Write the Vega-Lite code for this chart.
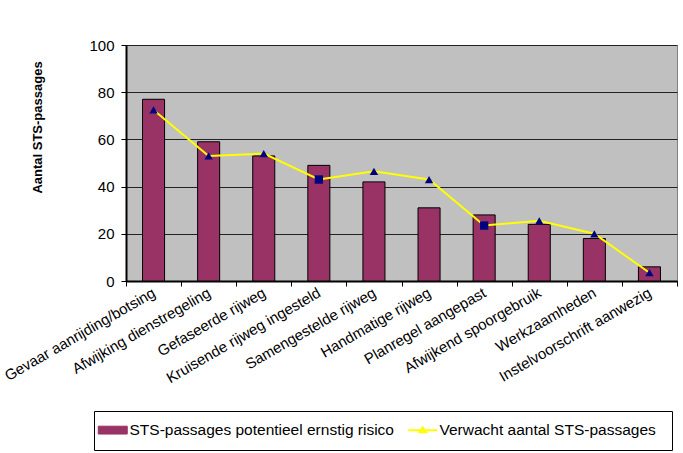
{
  "$schema": "https://vega.github.io/schema/vega-lite/v6.json",
  "width": 551,
  "height": 236,
  "autosize": {"type": "none"},
  "padding": {"left": 126, "top": 45, "right": 6, "bottom": 172},
  "background": "white",
  "config": {
    "font": "Liberation Sans",
    "view": {"fill": "#C0C0C0", "stroke": "#808080", "strokeWidth": 1},
    "axis": {"labelFont": "Liberation Sans", "titleFont": "Liberation Sans", "labelColor": "black", "titleColor": "black"}
  },
  "data": {
    "values": [
      {"categorie": "Gevaar aanrijding/botsing", "risico": 77, "verwacht": 72.5},
      {"categorie": "Afwijking dienstregeling", "risico": 59, "verwacht": 53},
      {"categorie": "Gefaseerde rijweg", "risico": 53, "verwacht": 54},
      {"categorie": "Kruisende rijweg ingesteld", "risico": 49, "verwacht": 43},
      {"categorie": "Samengestelde rijweg", "risico": 42, "verwacht": 46.5},
      {"categorie": "Handmatige rijweg", "risico": 31, "verwacht": 43},
      {"categorie": "Planregel aangepast", "risico": 28, "verwacht": 23.5},
      {"categorie": "Afwijkend spoorgebruik", "risico": 24, "verwacht": 25.5},
      {"categorie": "Werkzaamheden", "risico": 18, "verwacht": 20},
      {"categorie": "Instelvoorschrift aanwezig", "risico": 6, "verwacht": 3.5}
    ]
  },
  "encoding": {
    "x": {
      "field": "categorie",
      "type": "nominal",
      "sort": null,
      "scale": {"paddingInner": 0, "paddingOuter": 0},
      "axis": {
        "title": null,
        "labelAngle": -30,
        "labelAlign": "right",
        "labelBaseline": "middle",
        "labelFontSize": 15,
        "labelPadding": 5,
        "labelLimit": 300,
        "tickBand": "extent",
        "tickColor": "black",
        "tickSize": 5,
        "domainColor": "black",
        "domainWidth": 2,
        "grid": false
      }
    }
  },
  "layer": [
    {
      "mark": {"type": "bar", "width": {"band": 0.4}, "stroke": "black", "strokeWidth": 1},
      "encoding": {
        "y": {
          "field": "risico",
          "type": "quantitative",
          "scale": {"domain": [0, 100], "nice": false},
          "axis": {
            "values": [0, 20, 40, 60, 80, 100],
            "grid": true,
            "gridColor": "#222222",
            "gridWidth": 1,
            "domainColor": "black",
            "domainWidth": 2,
            "tickColor": "black",
            "tickSize": 5,
            "labelFontSize": 15,
            "labelPadding": 7,
            "title": "Aantal STS-passages",
            "titleFontSize": 13,
            "titleFontWeight": "bold",
            "titleAngle": -90,
            "titleX": -89,
            "titleY": 82,
            "titleAlign": "center",
            "titleBaseline": "middle"
          }
        },
        "color": {
          "datum": "STS-passages potentieel ernstig risico",
          "scale": {
            "domain": ["STS-passages potentieel ernstig risico", "Verwacht aantal  STS-passages"],
            "range": ["#993366", "#FFFF00"]
          },
          "legend": {
            "orient": "none",
            "legendX": -32,
            "legendY": 366,
            "direction": "horizontal",
            "title": null,
            "strokeColor": "black",
            "fillColor": "white",
            "padding": 11,
            "labelFontSize": 15.5,
            "labelFont": "Liberation Sans",
            "labelColor": "black",
            "labelOffset": 9,
            "columnPadding": 10,
            "symbolSize": 841,
            "labelLimit": 400,
            "symbolOpacity": 1,
            "symbolType": {"expr": "datum.value === 'STS-passages potentieel ernstig risico' ? 'M-1,-0.27H1V0.27H-1Z' : 'M-1,0H1M-0.22,0.14L0,-0.2L0.22,0.14Z'"},
            "symbolFillColor": {"expr": "datum.value === 'STS-passages potentieel ernstig risico' ? '#993366' : '#000080'"},
            "symbolStrokeColor": {"expr": "datum.value === 'STS-passages potentieel ernstig risico' ? 'black' : '#FFFF00'"},
            "symbolStrokeWidth": {"expr": "datum.value === 'STS-passages potentieel ernstig risico' ? 1 : 2"}
          }
        }
      }
    },
    {
      "mark": {"type": "line", "strokeWidth": 2},
      "encoding": {
        "y": {"field": "verwacht", "type": "quantitative"},
        "color": {"datum": "Verwacht aantal  STS-passages"}
      }
    },
    {
      "mark": {"type": "point", "filled": true, "fill": "#000080", "opacity": 1, "size": 70},
      "encoding": {
        "y": {"field": "verwacht", "type": "quantitative"},
        "shape": {
          "condition": {"test": "datum.categorie === 'Kruisende rijweg ingesteld' || datum.categorie === 'Planregel aangepast'", "value": "square"},
          "value": "triangle-up"
        }
      }
    }
  ]
}
